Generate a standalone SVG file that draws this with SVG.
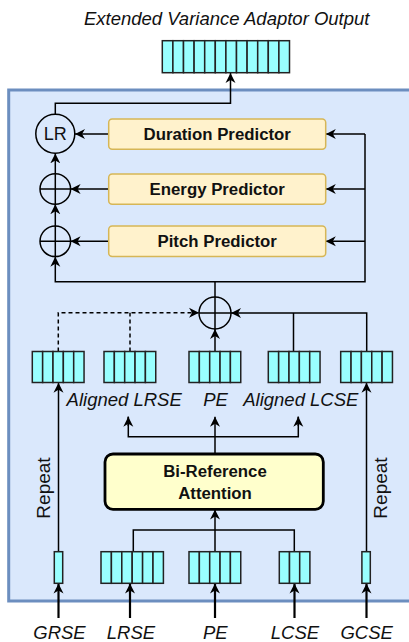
<svg xmlns="http://www.w3.org/2000/svg" width="409" height="642" viewBox="0 0 409 642">
  <style>
    .cell { fill: #99ffff; stroke: #222; stroke-width: 1.5; }
    .pred { fill: #fff2cc; stroke: #d6b656; stroke-width: 1.5; }
    .op { fill: none; stroke: #000; stroke-width: 1.5; }
    .wire { fill: none; stroke: #000; stroke-width: 1.5; }
    .dash { fill: none; stroke: #000; stroke-width: 1.5; stroke-dasharray: 4 3; }
    .thick { fill: none; stroke: #000; stroke-width: 2.2; }
    .lbl { font-family: "Liberation Sans", Arial, sans-serif; font-style: italic; font-size: 18.5px; fill: #111; text-anchor: middle; }
    .bold { font-family: "Liberation Sans", Arial, sans-serif; font-weight: bold; font-size: 16.8px; fill: #111; text-anchor: middle; }
    .reg { font-family: "Liberation Sans", Arial, sans-serif; font-size: 18px; fill: #111; text-anchor: middle; }
    .rep { font-family: "Liberation Sans", Arial, sans-serif; font-size: 19px; fill: #111; text-anchor: middle; }
  </style>
  <defs>
    <marker id="arr" viewBox="0 0 10 10" refX="10" refY="5" markerWidth="10" markerHeight="11" orient="auto" markerUnits="userSpaceOnUse">
      <path d="M0,0 L10,5 L0,10 L3,5 Z" fill="#000"/>
    </marker>
  </defs>

  <!-- title -->
  <text class="lbl" x="226.7" y="25">Extended Variance Adaptor Output</text>

  <!-- output embedding sequence -->
  <g id="output-seq">
    <rect class="cell" x="162.3" y="40.7" width="10.6" height="32"/>
    <rect class="cell" x="172.9" y="40.7" width="10.6" height="32"/>
    <rect class="cell" x="183.5" y="40.7" width="10.6" height="32"/>
    <rect class="cell" x="194.1" y="40.7" width="10.6" height="32"/>
    <rect class="cell" x="204.7" y="40.7" width="10.6" height="32"/>
    <rect class="cell" x="215.3" y="40.7" width="10.6" height="32"/>
    <rect class="cell" x="225.9" y="40.7" width="10.6" height="32"/>
    <rect class="cell" x="236.5" y="40.7" width="10.6" height="32"/>
    <rect class="cell" x="247.1" y="40.7" width="10.6" height="32"/>
    <rect class="cell" x="257.7" y="40.7" width="10.6" height="32"/>
    <rect class="cell" x="268.3" y="40.7" width="10.6" height="32"/>
    <rect class="cell" x="278.9" y="40.7" width="10.6" height="32"/>
  </g>

  <!-- variance adaptor container -->
  <rect id="container" x="8.7" y="90" width="412" height="511" fill="#dae8fc" stroke="#6c8ebf" stroke-width="3"/>

  <!-- connectors -->
  <g id="connectors">
    <path class="wire" d="M55.3,114 V103.3 H230.5 V73" marker-end="url(#arr)"/>
    <path class="wire" d="M108.7,134 H75" marker-end="url(#arr)"/>
    <path class="wire" d="M108.7,189 H70.6" marker-end="url(#arr)"/>
    <path class="wire" d="M108.7,241.3 H70.6" marker-end="url(#arr)"/>
    <path class="wire" d="M55.3,173.7 V153.4" marker-end="url(#arr)"/>
    <path class="wire" d="M55.3,226 V204.3" marker-end="url(#arr)"/>
    <path class="wire" d="M365,134 V281.7 H55.3 V256.7" marker-end="url(#arr)"/>
    <path class="wire" d="M215,281.7 V297"/>
    <path class="wire" d="M365,134 H325.8" marker-end="url(#arr)"/>
    <path class="wire" d="M365,189 H325.8" marker-end="url(#arr)"/>
    <path class="wire" d="M365,241.3 H325.8" marker-end="url(#arr)"/>
    <path class="dash" d="M58.3,351.5 V312.7 H199" marker-end="url(#arr)"/>
    <path class="dash" d="M130,351.5 V312.7"/>
    <path class="wire" d="M366.7,351.5 V313 H231" marker-end="url(#arr)"/>
    <path class="wire" d="M293.5,351.5 V313"/>
    <path class="wire" d="M215,351.5 V329" marker-end="url(#arr)"/>
    <path class="wire" d="M58.5,551.7 V382.8" marker-end="url(#arr)"/>
    <path class="wire" d="M366.5,551.7 V382.8" marker-end="url(#arr)"/>
    <path class="wire" d="M215,454 V416.7" marker-end="url(#arr)"/>
    <path class="wire" d="M128.3,416.7 V436.7 H298.3 V416.7"/>
    <path class="wire" d="M128.3,426 V416.7" marker-end="url(#arr)"/>
    <path class="wire" d="M298.3,426 V416.7" marker-end="url(#arr)"/>
    <path class="wire" d="M133.3,551.7 V530 H294.3 V551.7"/>
    <path class="wire" d="M215,551.7 V509.6" marker-end="url(#arr)"/>
    <path class="thick" d="M58.5,618 V583.6" marker-end="url(#arr)"/>
    <path class="thick" d="M130,618 V583.6" marker-end="url(#arr)"/>
    <path class="thick" d="M215,618 V583.6" marker-end="url(#arr)"/>
    <path class="thick" d="M294.5,618 V583.6" marker-end="url(#arr)"/>
    <path class="thick" d="M366.5,618 V583.6" marker-end="url(#arr)"/>
  </g>

  <!-- length regulator and adders -->
  <g id="length-regulator">
    <circle class="op" cx="55.3" cy="133.8" r="19.5" fill="#dae8fc"/>
    <text class="reg" x="55.3" y="140.3">LR</text>
  </g>
  <g id="add-energy">
    <circle class="op" cx="55.3" cy="189" r="15.3"/>
    <path class="op" d="M40,189 H70.6 M55.3,173.7 V204.3"/>
  </g>
  <g id="add-pitch">
    <circle class="op" cx="55.3" cy="241.3" r="15.3"/>
    <path class="op" d="M40,241.3 H70.6 M55.3,226 V256.6"/>
  </g>
  <g id="add-embeddings">
    <circle class="op" cx="215" cy="313" r="16"/>
    <path class="op" d="M199,313 H231 M215,297 V329"/>
  </g>

  <!-- predictors -->
  <g id="duration-predictor">
    <rect class="pred" x="108.7" y="119" width="217" height="30.3" rx="3.5"/>
    <text class="bold" x="217.2" y="139.8">Duration Predictor</text>
  </g>
  <g id="energy-predictor">
    <rect class="pred" x="108.7" y="174" width="217" height="30.3" rx="3.5"/>
    <text class="bold" x="217.2" y="194.8">Energy Predictor</text>
  </g>
  <g id="pitch-predictor">
    <rect class="pred" x="108.7" y="226" width="217" height="30.5" rx="3.5"/>
    <text class="bold" x="217.2" y="247">Pitch Predictor</text>
  </g>

  <!-- aligned sequences -->
  <g id="repeated-grse">
    <rect class="cell" x="32.3" y="351.5" width="10.35" height="31"/>
    <rect class="cell" x="42.65" y="351.5" width="10.35" height="31"/>
    <rect class="cell" x="53" y="351.5" width="10.35" height="31"/>
    <rect class="cell" x="63.35" y="351.5" width="10.35" height="31"/>
    <rect class="cell" x="73.7" y="351.5" width="10.35" height="31"/>
  </g>
  <g id="aligned-lrse">
    <rect class="cell" x="104" y="351.5" width="10.35" height="31"/>
    <rect class="cell" x="114.35" y="351.5" width="10.35" height="31"/>
    <rect class="cell" x="124.7" y="351.5" width="10.35" height="31"/>
    <rect class="cell" x="135.05" y="351.5" width="10.35" height="31"/>
    <rect class="cell" x="145.4" y="351.5" width="10.35" height="31"/>
    <text class="lbl" x="124.2" y="405.5">Aligned LRSE</text>
  </g>
  <g id="aligned-pe">
    <rect class="cell" x="189" y="351.5" width="10.35" height="31"/>
    <rect class="cell" x="199.35" y="351.5" width="10.35" height="31"/>
    <rect class="cell" x="209.7" y="351.5" width="10.35" height="31"/>
    <rect class="cell" x="220.05" y="351.5" width="10.35" height="31"/>
    <rect class="cell" x="230.4" y="351.5" width="10.35" height="31"/>
    <text class="lbl" x="215.5" y="405.5">PE</text>
  </g>
  <g id="aligned-lcse">
    <rect class="cell" x="268.3" y="351.5" width="10.35" height="31"/>
    <rect class="cell" x="278.65" y="351.5" width="10.35" height="31"/>
    <rect class="cell" x="289" y="351.5" width="10.35" height="31"/>
    <rect class="cell" x="299.35" y="351.5" width="10.35" height="31"/>
    <rect class="cell" x="309.7" y="351.5" width="10.35" height="31"/>
    <text class="lbl" x="300.8" y="405.5">Aligned LCSE</text>
  </g>
  <g id="repeated-gcse">
    <rect class="cell" x="340.7" y="351.5" width="10.35" height="31"/>
    <rect class="cell" x="351.05" y="351.5" width="10.35" height="31"/>
    <rect class="cell" x="361.4" y="351.5" width="10.35" height="31"/>
    <rect class="cell" x="371.75" y="351.5" width="10.35" height="31"/>
    <rect class="cell" x="382.1" y="351.5" width="10.35" height="31"/>
  </g>

  <!-- repeat annotations -->
  <text class="rep" transform="translate(49.8,488) rotate(-90)">Repeat</text>
  <text class="rep" transform="translate(386.8,488) rotate(-90)">Repeat</text>

  <!-- bi-reference attention -->
  <g id="bi-reference-attention">
    <rect x="105" y="454" width="218.3" height="55.3" rx="8" fill="#ffffcc" stroke="#000" stroke-width="2.8"/>
    <text class="bold" x="215" y="477">Bi-Reference</text>
    <text class="bold" x="215" y="498.5">Attention</text>
  </g>

  <!-- inputs -->
  <g id="grse">
    <rect class="cell" x="54.3" y="551.7" width="8.4" height="31.6"/>
    <text class="lbl" x="59.5" y="639">GRSE</text>
  </g>
  <g id="lrse">
    <rect class="cell" x="101" y="551.7" width="10.4" height="31.6"/>
    <rect class="cell" x="111.4" y="551.7" width="10.4" height="31.6"/>
    <rect class="cell" x="121.8" y="551.7" width="10.4" height="31.6"/>
    <rect class="cell" x="132.2" y="551.7" width="10.4" height="31.6"/>
    <rect class="cell" x="142.6" y="551.7" width="10.4" height="31.6"/>
    <rect class="cell" x="153" y="551.7" width="10.4" height="31.6"/>
    <text class="lbl" x="131" y="639">LRSE</text>
  </g>
  <g id="pe">
    <rect class="cell" x="189" y="551.7" width="10.35" height="31.6"/>
    <rect class="cell" x="199.35" y="551.7" width="10.35" height="31.6"/>
    <rect class="cell" x="209.7" y="551.7" width="10.35" height="31.6"/>
    <rect class="cell" x="220.05" y="551.7" width="10.35" height="31.6"/>
    <rect class="cell" x="230.4" y="551.7" width="10.35" height="31.6"/>
    <text class="lbl" x="215.3" y="639">PE</text>
  </g>
  <g id="lcse">
    <rect class="cell" x="279.3" y="551.7" width="10.2" height="31.6"/>
    <rect class="cell" x="289.5" y="551.7" width="10.2" height="31.6"/>
    <rect class="cell" x="299.7" y="551.7" width="10.2" height="31.6"/>
    <text class="lbl" x="295" y="639">LCSE</text>
  </g>
  <g id="gcse">
    <rect class="cell" x="361.9" y="551.7" width="8.4" height="31.6"/>
    <text class="lbl" x="366.7" y="639">GCSE</text>
  </g>
</svg>
